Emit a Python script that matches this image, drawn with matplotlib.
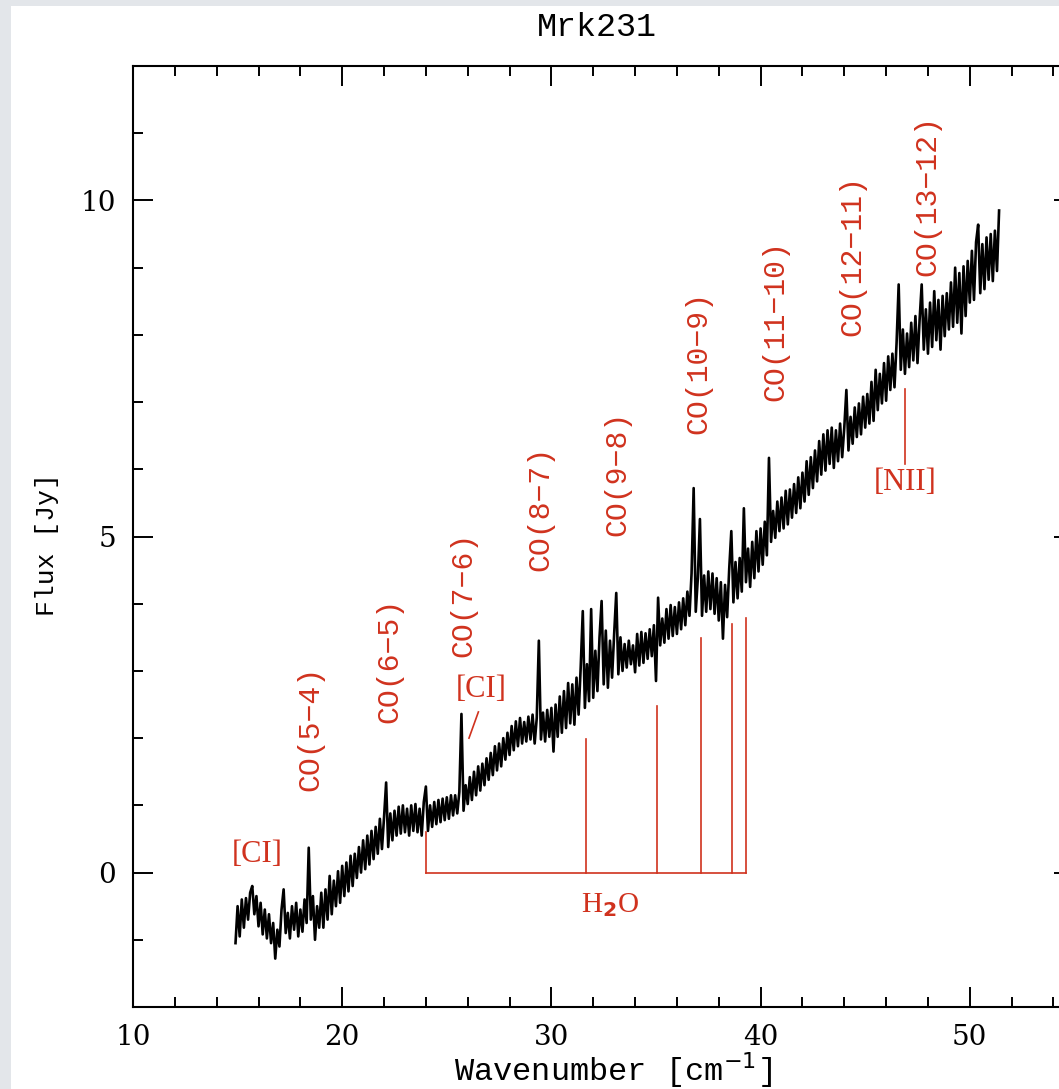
import numpy as np
import matplotlib

matplotlib.use("Agg")

import matplotlib.pyplot as plt
from matplotlib.patches import Rectangle
from matplotlib.ticker import MultipleLocator

RED = '#d0321e'

# spectrum: wavenumber grid 14.9 .. 51.4 cm-1, step 0.1
wn_start = 14.9
wn_stop = 51.4
flux = [
    -1.05, -0.50, -0.95, -0.40, -0.82, -0.38, -0.70, -0.30, -0.20, -0.62, -0.35,
    -0.80, -0.45, -0.92, -0.55, -0.98, -0.62, -1.05, -0.75, -1.28, -0.85,
    -1.10, -0.55, -0.25, -0.90, -0.60, -0.98, -0.50, -0.85, -0.45, -0.95,
    -0.55, -0.88, -0.40, -0.75, 0.37, -0.70, -0.35, -1.00, -0.50, -0.82,
    -0.30, -0.82, -0.25, -0.70, -0.05, -0.62, -0.12, -0.50, 0.02, -0.45,
    0.10, -0.35, 0.15, -0.28, 0.25, -0.20, 0.28, -0.08, 0.38, 0.00,
    0.48, 0.05, 0.55, 0.12, 0.62, 0.20, 0.68, 0.28, 0.80, 0.35,
    0.82, 1.34, 0.38, 0.88, 0.48, 0.92, 0.55, 0.98, 0.58, 1.00,
    0.60, 0.95, 0.55, 1.00, 0.62, 1.02, 0.60, 0.95, 0.55, 1.05,
    1.28, 0.62, 1.00, 0.68, 1.05, 0.72, 1.08, 0.75, 1.10, 0.78,
    1.12, 0.80, 1.15, 0.85, 1.15, 0.88, 1.20, 2.36, 0.92, 1.30,
    1.02, 1.42, 1.08, 1.50, 1.15, 1.58, 1.22, 1.62, 1.30, 1.70,
    1.38, 1.78, 1.45, 1.88, 1.52, 1.92, 1.58, 2.00, 1.68, 2.08,
    1.75, 2.18, 1.82, 2.25, 1.88, 2.30, 1.92, 2.24, 1.95, 2.32,
    1.98, 2.35, 1.92, 2.30, 3.45, 1.98, 2.38, 1.95, 2.42, 2.02,
    2.45, 1.80, 2.50, 2.02, 2.62, 2.08, 2.70, 2.15, 2.82, 2.22,
    2.80, 2.20, 2.90, 2.35, 3.05, 3.89, 2.45, 3.10, 2.55, 3.92,
    2.60, 3.30, 2.70, 3.50, 4.04, 2.80, 3.60, 2.75, 3.45, 2.90,
    3.55, 4.16, 2.95, 3.50, 3.00, 3.40, 3.05, 3.45, 3.10, 3.38,
    2.98, 3.55, 3.08, 3.58, 3.12, 3.56, 3.18, 3.62, 3.22, 3.68,
    2.85, 4.09, 3.38, 3.78, 3.42, 3.92, 3.48, 3.98, 3.52, 3.95,
    3.55, 4.02, 3.62, 4.08, 3.68, 4.18, 3.82, 4.45, 5.72, 3.88,
    4.38, 5.26, 3.82, 4.42, 3.88, 4.48, 3.92, 4.45, 3.85, 4.38,
    3.75, 4.32, 3.48, 4.28, 3.80, 4.52, 5.08, 4.02, 4.62, 4.08,
    4.68, 4.18, 5.42, 4.32, 4.82, 4.25, 4.92, 4.38, 5.08, 4.48,
    5.12, 4.58, 5.22, 4.72, 6.17, 4.92, 5.38, 4.98, 5.52, 5.08,
    5.58, 5.12, 5.68, 5.18, 5.70, 5.28, 5.78, 5.35, 5.88, 5.42,
    5.95, 5.52, 6.12, 5.62, 6.18, 5.72, 6.28, 5.82, 6.42, 5.92,
    6.52, 5.98, 6.58, 6.08, 6.62, 6.02, 6.58, 6.12, 6.68, 6.18,
    6.62, 7.18, 6.28, 6.78, 6.38, 6.92, 6.48, 6.98, 6.52, 7.08,
    6.62, 7.12, 6.68, 7.30, 6.72, 7.48, 6.88, 7.42, 6.98, 7.58,
    7.02, 7.68, 7.18, 7.72, 7.22, 7.88, 8.75, 7.48, 8.08, 7.42,
    8.02, 7.52, 8.18, 7.62, 8.28, 7.58, 8.22, 8.75, 7.78, 8.38,
    7.72, 8.48, 7.82, 8.65, 7.92, 8.52, 7.78, 8.58, 7.98, 8.62,
    8.08, 8.78, 8.12, 9.00, 8.18, 8.92, 8.02, 9.02, 8.28, 9.10,
    8.48, 9.25, 8.52, 9.38, 9.64, 8.62, 9.35, 8.68, 9.45, 8.82,
    9.50, 8.80, 9.55, 8.95, 9.85,
]

co_labels = ['CO(5\u22124)', 'CO(6\u22125)', 'CO(7\u22126)', 'CO(8\u22127)', 'CO(9\u22128)',
             'CO(10\u22129)', 'CO(11\u221210)', 'CO(12\u221211)', 'CO(13\u221212)']
co_x = [18.46, 22.24, 25.77, 29.45, 33.13, 37.01, 40.69, 44.37, 47.95]
co_y = [1.22, 2.23, 3.20, 4.49, 5.01, 6.52, 7.02, 7.99, 8.88]

h2o_x = [24.0, 31.64, 35.03, 37.14, 38.62, 39.29]
h2o_top = [0.60, 1.99, 2.48, 3.49, 3.70, 3.79]


def main():
    wn = np.linspace(wn_start, wn_stop, len(flux))

    fig = plt.figure(figsize=(10.59, 10.89), dpi=100)
    fig.patch.set_facecolor('#e3e6ea')
    panel = Rectangle((11 / 1059, 0), 1, 1 - 6 / 1089, transform=fig.transFigure,
                      facecolor='white', edgecolor='none', zorder=-10)
    fig.add_artist(panel)

    ax = fig.add_axes([133 / 1059, 82 / 1089, 941.4 / 1059, 941 / 1089])
    ax.set_zorder(1)
    ax.set_facecolor('white')
    ax.plot(wn, flux, color='black', lw=1.9)

    # H2O comb
    ax.plot([h2o_x[0], h2o_x[-1]], [0, 0], color=RED, lw=1.2)
    for xv, top in zip(h2o_x, h2o_top):
        ax.plot([xv, xv], [0, top], color=RED, lw=1.2)
    ax.text(32.8, -0.49, r'H$_\mathbf{2}$O', color=RED, fontsize=21, family='Liberation Serif',
            ha='center', va='center')

    for lab, xv, yv in zip(co_labels, co_x, co_y):
        ax.text(xv, yv, lab, color=RED, fontsize=21.5, family='Liberation Mono',
                rotation=90, ha='center', va='bottom')

    ax.text(15.95, 0.27, '[CI]', color=RED, fontsize=22, family='Liberation Serif',
            ha='center', va='center')
    ax.text(26.63, 2.72, '[CI]', color=RED, fontsize=22, family='Liberation Serif',
            ha='center', va='center')
    ax.plot([26.51, 26.06], [2.39, 2.0], color=RED, lw=1.2)
    ax.text(46.9, 5.8, '[NII]', color=RED, fontsize=22, family='Liberation Serif',
            ha='center', va='center')
    ax.plot([46.9, 46.9], [6.08, 7.19], color=RED, lw=1.2)

    ax.set_xlim(10, 55)
    ax.set_ylim(-2, 12)
    ax.xaxis.set_major_locator(MultipleLocator(10))
    ax.xaxis.set_minor_locator(MultipleLocator(2))
    ax.yaxis.set_major_locator(MultipleLocator(5))
    ax.yaxis.set_minor_locator(MultipleLocator(1))
    ax.tick_params(which='both', direction='in', top=True, right=True, width=1.4,
                   labelsize=20, pad=12, colors='black')
    ax.tick_params(which='major', length=14.5)
    ax.tick_params(which='minor', length=7.2)
    for lab in ax.get_xticklabels() + ax.get_yticklabels():
        lab.set_family('DejaVu Serif')
    for sp in ax.spines.values():
        sp.set_linewidth(1.5)

    fig.text(613 / 1059, 1 - 1070 / 1089, 'Wavenumber [cm$^{-1}$]', fontsize=23,
             family='Liberation Mono', ha='center', va='center')
    fig.text(47 / 1059, 1 - 545 / 1089, 'Flux [Jy]', fontsize=19, family='Liberation Mono',
             rotation=90, ha='center', va='center')
    fig.text(597 / 1059, 1 - 28 / 1089, 'Mrk231', fontsize=24, family='Liberation Mono',
             ha='center', va='center')

    fig.savefig('out.png', dpi=100)


if __name__ == '__main__':
    main()
